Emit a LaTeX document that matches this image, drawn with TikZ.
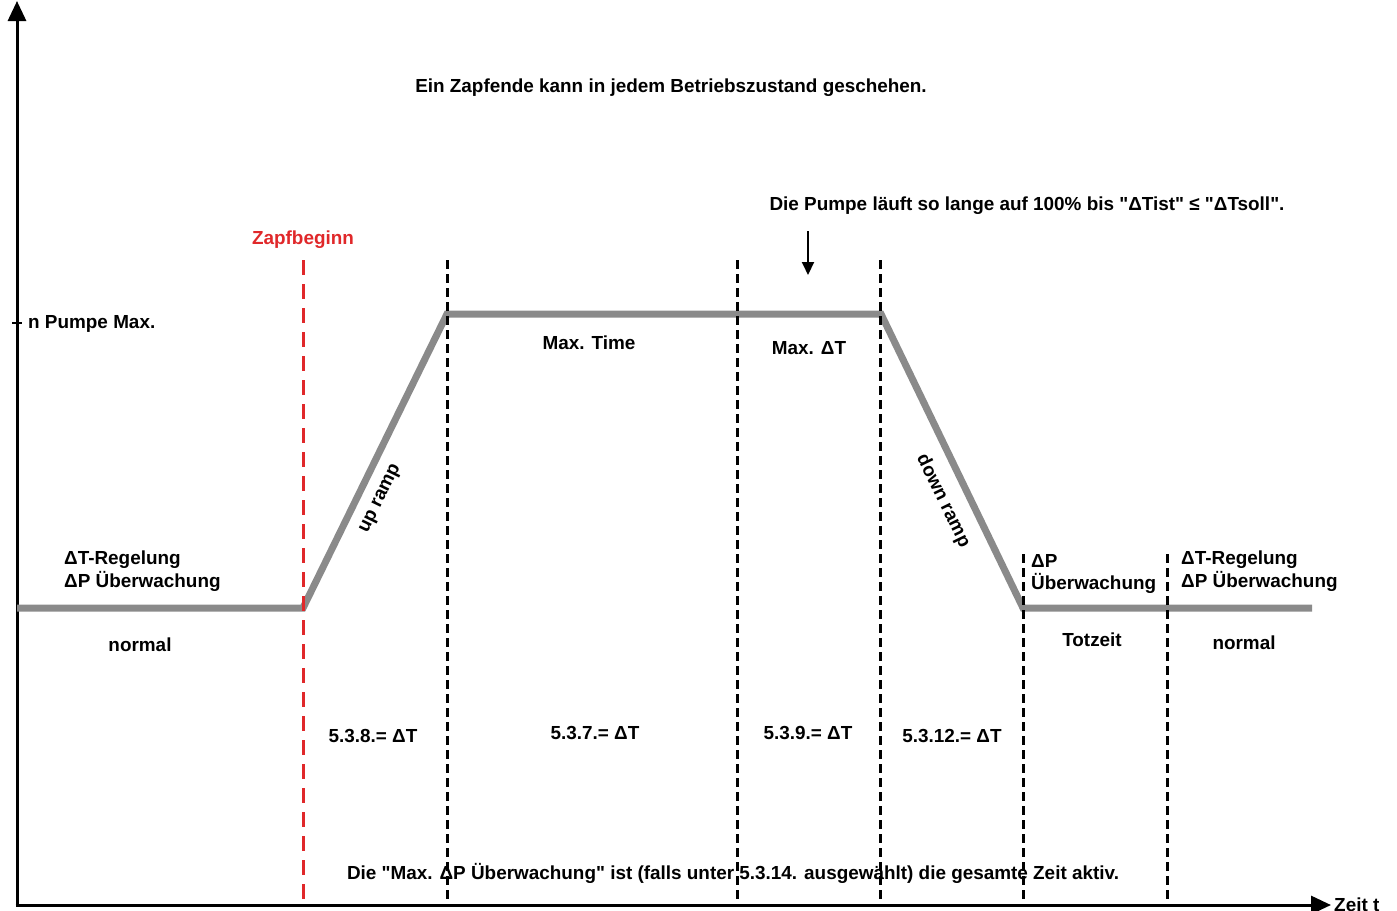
\documentclass[tikz,border=0pt]{standalone}
\usepackage{fontspec}
\newfontfamily\diagfont{Liberation Sans}
\usetikzlibrary{arrows.meta, positioning}
\definecolor{curvegray}{HTML}{8A8A8A}
\definecolor{zapfred}{HTML}{E0282A}
\tikzset{
    lbl/.style={
        font=\diagfont\fontsize{18.9}{22.5}\selectfont\bfseries,
        inner sep=0pt, align=center,
    },
    lblleft/.style={
        lbl, align=left, anchor=west,
    },
    axis/.style={
        -{Triangle[length=20pt, width=18pt]}, line width=3pt,
    },
    pumpcurve/.style={
        draw=curvegray, line width=7pt,
    },
    phaseline/.style={
        dash pattern=on 9pt off 5pt, line width=3pt,
    },
    zapfline/.style={
        draw=zapfred, dash pattern=on 15pt off 9pt, line width=3pt,
    },
}

\begin{document}
\begin{tikzpicture}[x=1pt, y=-1pt]
\useasboundingbox (0,0) rectangle (1397,910);

% ── Axes ─────────────────────────────────────────────────────
\coordinate (origin) at (17,906);
\coordinate (ytip) at (17,1);
\coordinate (xtip) at (1331,905);
\draw[axis] (origin) -- (ytip);
\draw[axis] ([xshift=-1.5pt]origin |- xtip) -- (xtip);
\node[lblleft, right=3pt of xtip] (zeit) {Zeit t};

% y tick for maximum speed
\coordinate (maxtick) at (17,323);
\draw[line width=2pt] ([xshift=-5pt]maxtick) -- ([xshift=5pt]maxtick);
\node[lblleft] (nmax) at (28,324) {n Pumpe Max.};

% ── Pump curve ───────────────────────────────────────────────
\coordinate (c0) at (17,608);
\coordinate (c1) at (303,608);
\coordinate (c2) at (447,314);
\coordinate (c3) at (881,314);
\coordinate (c4) at (1023,608);
\coordinate (c5) at (1312,608);
\draw[pumpcurve] (c0) -- (c1) -- (c2) -- (c3) -- (c4) -- (c5);

% ── Phase boundaries ─────────────────────────────────────────
\coordinate (zapftop) at (303,260);
\draw[zapfline] (zapftop) -- (zapftop |- origin);
\node[lbl, text=zapfred, above=11pt of zapftop] (zapf) {Zapfbeginn};

\foreach \name/\x/\ytop in {p1/447/260, p2/737/260, p3/880/260, p4/1023/554, p5/1167/554} {
    \coordinate (\name) at (\x,\ytop);
    \draw[phaseline] (\name) -- (\name |- origin);
}

% ── Texts ────────────────────────────────────────────────────
\node[lbl] (zapfende) at (671,88) {Ein Zapfende kann in jedem Betriebszustand geschehen.};
\node[lbl] (pumpe) at (1027,206) {Die Pumpe läuft so lange auf 100\% bis "ΔTist" ≤ "ΔTsoll".};
\coordinate (arrtop) at (808,231);
\coordinate (arrbot) at (808,275);
\draw[-{Triangle[length=13pt, width=12pt]}, line width=2pt] (arrtop) -- (arrbot);

\node[lbl] (maxtime) at (589,343) {Max. Time};
\node[lbl] (maxdt) at (809,348) {Max. ΔT};
\node[lbl, rotate=64] (upramp) at (381,499) {up ramp};
\node[lbl, rotate=-64] (downramp) at (943,501) {down ramp};

\node[lblleft] (regl) at (64,571) {ΔT-Regelung\\ΔP Überwachung};
\node[lbl] (norml) at (140,645) {normal};
\node[lblleft] (uebw) at (1031,574) {ΔP\\Überwachung};
\node[lbl] (totzeit) at (1092,640) {Totzeit};
\node[lblleft] (regr) at (1181,571) {ΔT-Regelung\\ΔP Überwachung};
\node[lbl] (normr) at (1244,643) {normal};

\node[lbl] (s538) at (373,736) {5.3.8.= ΔT};
\node[lbl] (s537) at (595,733) {5.3.7.= ΔT};
\node[lbl] (s539) at (808,733) {5.3.9.= ΔT};
\node[lbl] (s5312) at (952,736) {5.3.12.= ΔT};

\node[lbl] (gesamt) at (733,873) {Die "Max. ΔP Überwachung" ist (falls unter 5.3.14. ausgewählt) die gesamte Zeit aktiv.};

\end{tikzpicture}
\end{document}
